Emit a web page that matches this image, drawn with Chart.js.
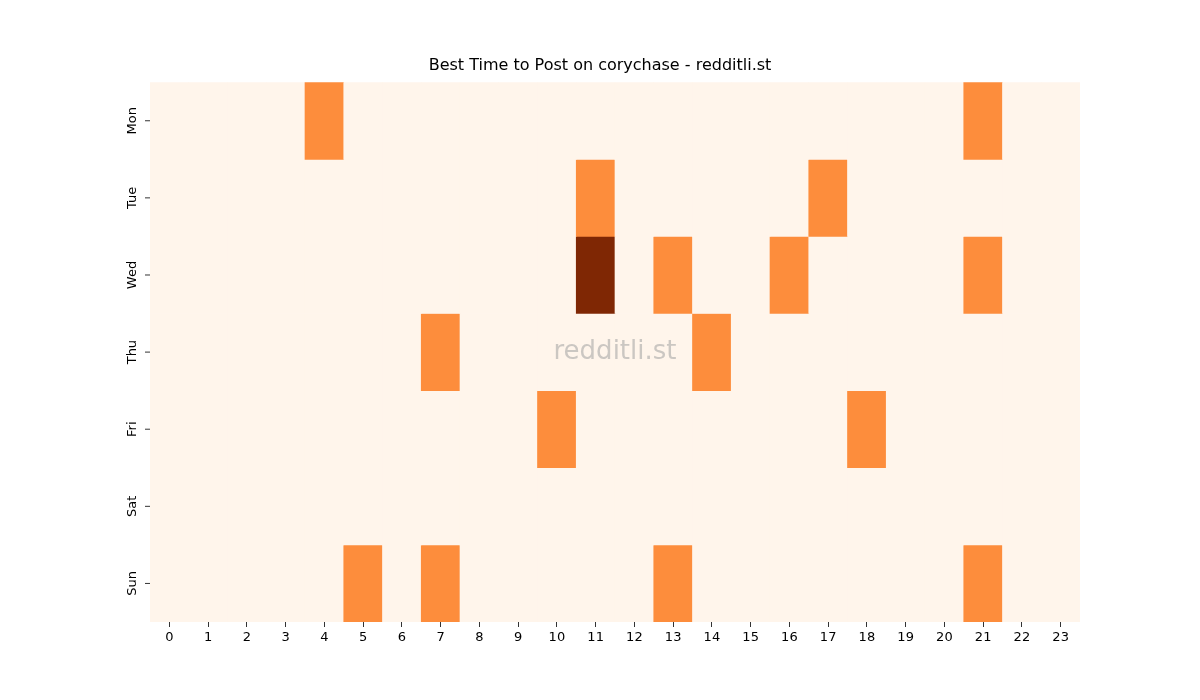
<!DOCTYPE html>
<html><head><meta charset="utf-8">
<script src="https://cdn.jsdelivr.net/npm/chart.js@4"></script>
<style>html,body{margin:0;background:#fff}#w{width:1200px;height:700px}</style>
</head><body><div id="w"><canvas id="c"></canvas></div>
<script>
const hours = Array.from({length:24},(_,i)=>String(i));
const days = ["Mon","Tue","Wed","Thu","Fri","Sat","Sun"];
const mon = [0,0,0,0,1,0,0,0,0,0,0,0,0,0,0,0,0,0,0,0,0,1,0,0];
const tue = [0,0,0,0,0,0,0,0,0,0,0,1,0,0,0,0,0,1,0,0,0,0,0,0];
const wed = [0,0,0,0,0,0,0,0,0,0,0,2,0,1,0,0,1,0,0,0,0,1,0,0];
const thu = [0,0,0,0,0,0,0,1,0,0,0,0,0,0,1,0,0,0,0,0,0,0,0,0];
const fri = [0,0,0,0,0,0,0,0,0,0,1,0,0,0,0,0,0,0,1,0,0,0,0,0];
const sat = [0,0,0,0,0,0,0,0,0,0,0,0,0,0,0,0,0,0,0,0,0,0,0,0];
const sun = [0,0,0,0,0,1,0,1,0,0,0,0,0,1,0,0,0,0,0,0,0,1,0,0];
const rows = [mon,tue,wed,thu,fri,sat,sun];
const palette = ["#fff5eb","#fd8d3c","#7f2704"];

const datasets = rows.map((r,d)=>({
  label: days[d],
  data: r.map(()=>[d-0.5,d+0.5]),
  backgroundColor: r.map(v=>palette[v]),
  borderWidth: 0,
  categoryPercentage: 1, barPercentage: 1, grouped: false
}));

const extra = {
  id:'extra',
  afterDraw(ch){
    const ctx=ch.ctx, y=ch.scales.y, a=ch.chartArea;
    ctx.save();
    ctx.fillStyle='#000'; ctx.strokeStyle='#333'; ctx.lineWidth=1;
    ctx.font='13px "DejaVu Sans"'; ctx.textAlign='center'; ctx.textBaseline='middle';
    days.forEach((d,i)=>{
      const p=y.getPixelForValue(i);
      ctx.beginPath(); ctx.moveTo(a.left-5,p); ctx.lineTo(a.left,p); ctx.stroke();
      ctx.save(); ctx.translate(a.left-17,p); ctx.rotate(-Math.PI/2); ctx.fillText(d,0,0); ctx.restore();
    });
    ctx.fillStyle='rgba(160,160,160,0.55)';
    ctx.font='26px "DejaVu Sans"';
    ctx.fillText('redditli.st',(a.left+a.right)/2,(a.top+a.bottom)/2);
    ctx.restore();
  }
};

new Chart(document.getElementById('c'),{
  type:'bar',
  data:{labels:hours,datasets},
  options:{
    responsive:true, maintainAspectRatio:false, animation:false,
    layout:{padding:{left:120,right:120,top:56,bottom:47}},
    plugins:{legend:{display:false},tooltip:{enabled:false},
      title:{display:true,text:'Best Time to Post on corychase - redditli.st',color:'#000',
        font:{family:'DejaVu Sans',size:16,weight:'normal'},padding:{top:0,bottom:7}}},
    scales:{
      x:{grid:{display:true,offset:false,drawOnChartArea:false,tickLength:5,color:'#333'},
         border:{display:false},
         ticks:{color:'#000',font:{family:'DejaVu Sans',size:13},maxRotation:0,autoSkip:false},
         afterFit(s){s.height=31;}},
      y:{type:'linear',min:-0.5,max:6.5,reverse:true,
         grid:{display:false},border:{display:false},ticks:{display:false},
         afterFit(s){s.width=30;}}
    }
  },
  plugins:[extra]
});
</script></body></html>
